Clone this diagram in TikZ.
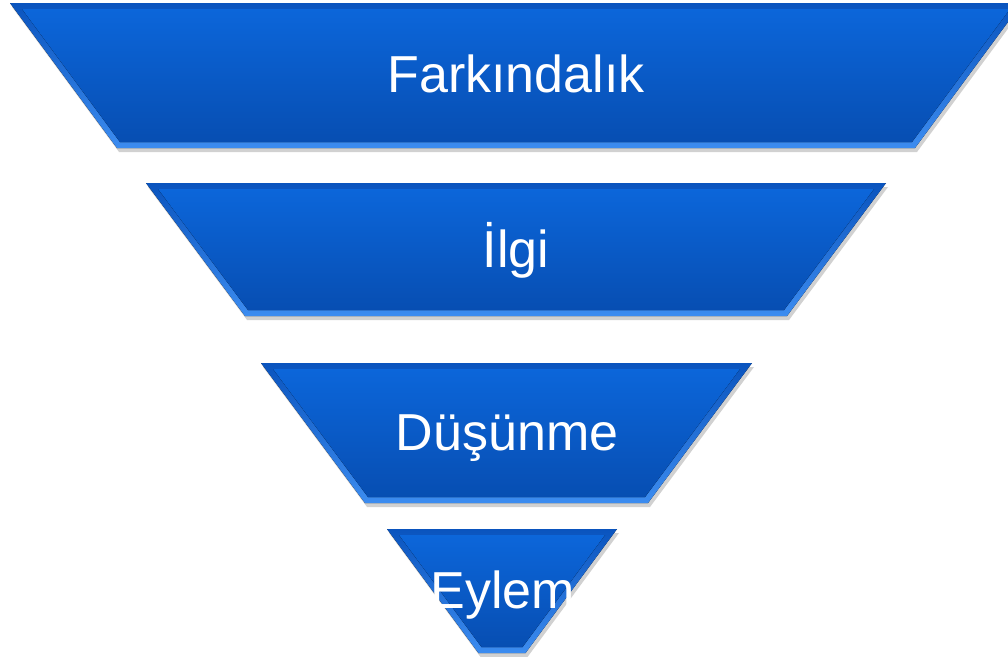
\documentclass[tikz,border=0pt]{standalone}
\usepackage{fontspec}
\setmainfont{Liberation Sans}
\definecolor{funneltop}{RGB}{12,102,218}
\definecolor{funnelbottom}{RGB}{7,78,178}
\definecolor{beveltop}{RGB}{10,84,190}
\definecolor{bevelbottom}{RGB}{60,140,240}
\tikzset{
  shadowpart/.style={fill=black,fill opacity=0.18},
  bevelpart/.style={top color=beveltop,bottom color=bevelbottom,draw=none},
  bodypart/.style={top color=funneltop,bottom color=funnelbottom,draw=none},
  levellabel/.style={anchor=base,text=white,inner sep=0pt,font=\fontsize{52}{60}\selectfont}
}
\begin{document}
\begin{tikzpicture}[x=1pt,y=-1pt]
\useasboundingbox (0,0) rectangle (1008,656);
\clip (0,0) rectangle (1008,656);

% Farkindalik
\fill[shadowpart] (12,7) -- (1024,7) -- (917,152) -- (119,152) -- cycle;
\fill[bevelpart] (10,3) -- (1022,3) -- (915,148) -- (117,148) -- cycle;
\fill[bodypart] (22,9) -- (1010,9) -- (912,142) -- (120,142) -- cycle;
\node[levellabel] (farkindalik) at (516,92) {Farkındalık};

% Ilgi
\fill[shadowpart] (148,187) -- (888,187) -- (789,320) -- (247,320) -- cycle;
\fill[bevelpart] (146,183) -- (886,183) -- (787,316) -- (245,316) -- cycle;
\fill[bodypart] (158,189) -- (874,189) -- (784,310) -- (248,310) -- cycle;
\node[levellabel] (ilgi) at (516,267) {İlgi};

% Dusunme
\fill[shadowpart] (263,367) -- (754,367) -- (650,507) -- (367,507) -- cycle;
\fill[bevelpart] (261,363) -- (752,363) -- (648,503) -- (365,503) -- cycle;
\fill[bodypart] (273,369) -- (740,369) -- (645,497) -- (368,497) -- cycle;
\node[levellabel] (dusunme) at (507,450) {Düşünme};

% Eylem
\fill[shadowpart] (389,533) -- (619,533) -- (527.5,657) -- (480.5,657) -- cycle;
\fill[bevelpart] (387,529) -- (617,529) -- (525.5,653) -- (478.5,653) -- cycle;
\fill[bodypart] (399,535) -- (605,535) -- (522.5,647) -- (481.5,647) -- cycle;
\node[levellabel] (eylem) at (503,608) {Eylem};
\end{tikzpicture}
\end{document}
